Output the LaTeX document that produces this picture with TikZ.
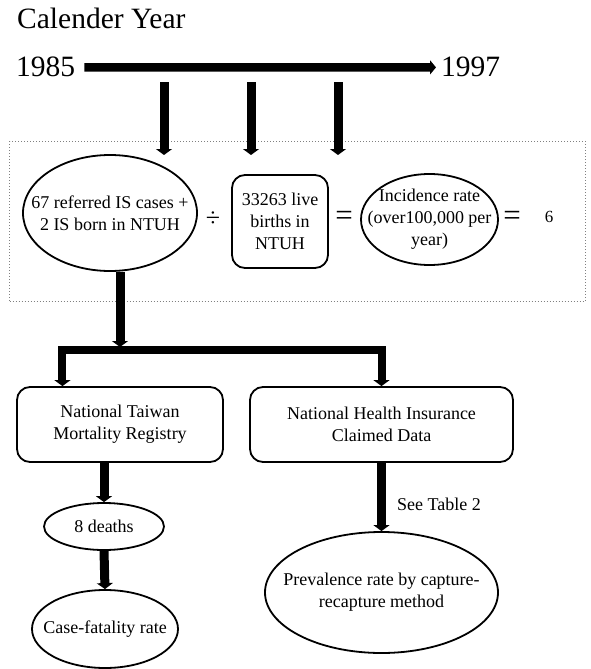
\documentclass[tikz,border=0pt]{standalone}
\usepackage{fontspec}
\setmainfont{Liberation Serif}
\usetikzlibrary{shapes.geometric,arrows.meta,calc}
\begin{document}
\begin{tikzpicture}[x=1pt,y=-1pt,
  txt/.style={font=\fontsize{18pt}{22pt}\selectfont, align=center, inner sep=0pt},
  ell/.style={ellipse, draw, line width=1.8pt, inner sep=0pt},
  rbox/.style={draw, line width=1.8pt, rounded corners=13pt, inner sep=0pt,
    font=\fontsize{18pt}{22pt}\selectfont, align=center},
  fat/.style={line width=9pt, -{Triangle[width=16pt,length=6pt]}},
  op/.style={font=\fontsize{26pt}{30pt}\selectfont, inner sep=0pt},
  eqop/.style={font=\fontsize{31pt}{36pt}\selectfont, inner sep=0pt},
  big/.style={anchor=base west, inner sep=0pt, font=\fontsize{29.5pt}{35pt}\selectfont},
]
\useasboundingbox (0,0) rectangle (590,669);

% dotted frame
\node (frame) [draw=gray, line width=0.8pt, dash pattern=on 1pt off 2pt,
  minimum width=575.5pt, minimum height=160pt, inner sep=0pt] at (297.25,221) {};

% timeline
\node (cal) [big] at (17,29) {Calender Year};
\node (y85) [big] at (16,77) {1985};
\node (y97) [big] at (441,77) {1997};
\draw[line width=8.5pt, -{Triangle[width=14pt,length=6pt]}, shorten <=9pt, shorten >=5pt]
  (y85.east) -- (y97.west);

% three down arrows
\coordinate (t1) at (164,82);  \coordinate (h1) at (164,155);
\coordinate (t2) at (251,82);  \coordinate (h2) at (251,155);
\coordinate (t3) at (338,82);  \coordinate (h3) at (338,155);
\draw[fat] (t1) -- (h1);
\draw[fat] (t2) -- (h2);
\draw[fat] (t3) -- (h3);

% incidence row
\node (e1) [ell, minimum width=174pt, minimum height=116pt] at (110,213) {};
\node (e1t) [txt] at (e1.center) {67 referred IS cases +\\2 IS born in NTUH};
\node (div) [op] at (213,219) {÷};
\node (births) [rbox, minimum width=96pt, minimum height=93pt] at (280,221.5)
  {33263 live\\births in\\NTUH};
\node (eq1) [eqop] at (344,218) {=};
\node (e3) [ell, minimum width=137pt, minimum height=91pt] at (429.5,219.5) {};
\node (e3t) [txt] at (e3.center) {Incidence rate\\(over100,000 per\\year)};
\node (eq2) [eqop] at (512,218) {=};
\node (six) [inner sep=0pt, font=\fontsize{17pt}{20pt}\selectfont] at (549,217) {6};

% split to registries
\coordinate (split) at (120,350);
\coordinate (join) at (120,347);
\node (reg) [rbox, minimum width=206pt, minimum height=75pt] at (120,424.5)
  {National Taiwan\\Mortality Registry};
\node (nhi) [rbox, minimum width=263pt, minimum height=75pt] at (381.5,424.5)
  {National Health Insurance\\Claimed Data};
\coordinate (b1in) at ($(reg.north west)!0.223!(reg.north east)$);
\draw[fat] (e1.south -| split) -- (join);
\draw[fat, line width=8pt] (split) -| (b1in);
\draw[fat, line width=8pt] (split) -| (nhi.north);

% lower left chain
\node (d8) [ell, minimum width=120pt, minimum height=47pt, txt, draw] at (104,526.5) {8 deaths};
\node (cfr) [ell, minimum width=146pt, minimum height=78pt] at (105,629) {};
\node (cfrt) [txt] at (cfr.center) {Case-fatality rate};
\draw[fat] (d8.north |- reg.south) -- (d8.north);
\draw[fat] (d8.south) -- (cfr.north);

% lower right chain
\node (prev) [ell, minimum width=233pt, minimum height=121pt] at (381.5,592.5) {};
\node (prevt) [txt] at (prev.center) {Prevalence rate by capture-\\recapture method};
\draw[fat] (prev.north |- nhi.south) -- (prev.north);
\node (see) [txt, anchor=base west] at (397,510) {See Table 2};
\end{tikzpicture}
\end{document}
